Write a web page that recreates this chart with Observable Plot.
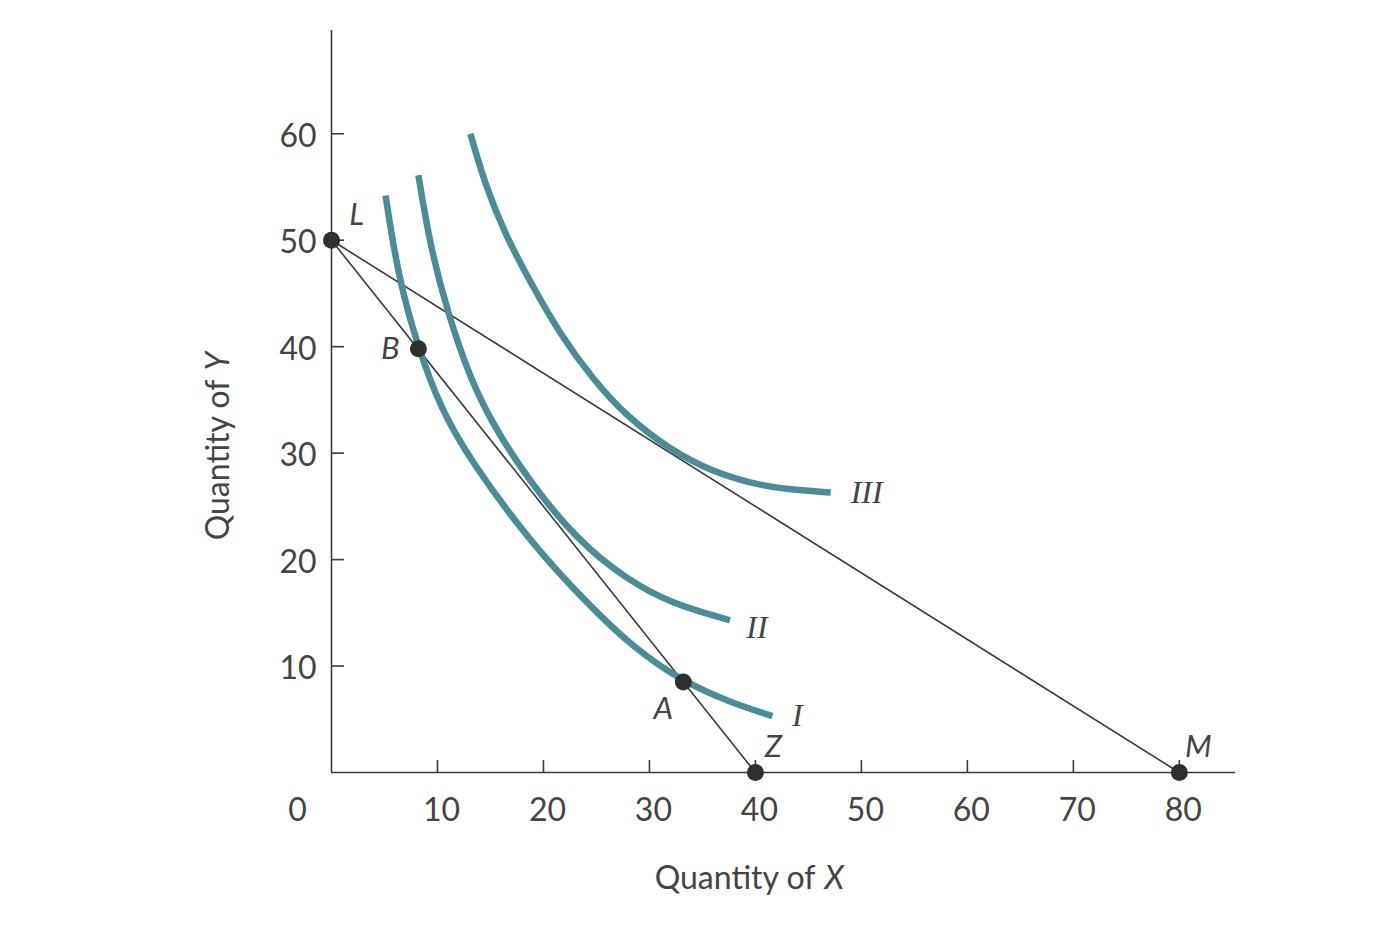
<!DOCTYPE html>
<html>
<head>
<meta charset="utf-8">
<script src="https://cdn.jsdelivr.net/npm/d3@7"></script>
<script src="https://cdn.jsdelivr.net/npm/@observablehq/plot@0.6"></script>
<style>
  html, body { margin: 0; padding: 0; background: #fff; }
  #chart svg { display: block; }
</style>
</head>
<body>
<div id="chart"></div>
<script>
// ---- data ----
const xTicks = [10, 20, 30, 40, 50, 60, 70, 80];
const yTicks = [10, 20, 30, 40, 50, 60];

// indifference curve I
const curveI = [[5.1, 54.2], [6.3, 46.5], [8.2, 39.8], [10.3, 34.2], [13.1, 29.3], [18.8, 21.6], [24.0, 16.0], [28.5, 11.7], [33.2, 8.5], [37.6, 6.6], [41.6, 5.3]];
// indifference curve II
const curveII = [[8.2, 56.1], [9.3, 49.5], [10.9, 43.4], [13.1, 36.9], [15.5, 32.2], [18.8, 27.2], [23.2, 21.8], [27.9, 18.1], [32.0, 15.9], [37.6, 14.3]];
// indifference curve III
const curveIII = [[13.1, 60.0], [14.5, 55.2], [16.4, 50.5], [18.8, 46.0], [21.6, 41.1], [24.7, 36.9], [27.9, 33.4], [32.0, 30.3], [35.8, 28.3], [40.5, 26.9], [44.3, 26.5], [47.1, 26.3]];

// budget lines
const lineLZ = [[0, 50], [40, 0]];
const lineLM = [[0, 50], [80, 0]];

// labelled points
const pointNames = ["L", "B", "A", "Z", "M"];
const pointX = [0, 8.2, 33.2, 40, 80];
const pointY = [50, 39.8, 8.5, 0, 0];

const curveNames = ["I", "II", "III"];

// ---- build ----
const teal = "#4b8c97";
const ink = "#3a3a3a";
const textInk = "#444";
const sans = "Lato, 'Open Sans', sans-serif";
const serif = "'Liberation Serif', 'DejaVu Serif', serif";

const toRows = (arr, name) => arr.map(([x, y]) => ({x, y, name}));
const curves = [...toRows(curveI, "I"), ...toRows(curveII, "II"), ...toRows(curveIII, "III")];
const budget = [...toRows(lineLZ, "LZ"), ...toRows(lineLM, "LM")];
const points = pointNames.map((n, i) => ({name: n, x: pointX[i], y: pointY[i]}));
const ends = [curveI, curveII, curveIII].map((c, i) => ({name: curveNames[i], x: c[c.length - 1][0], y: c[c.length - 1][1]}));

const pointOffsets = {L: [25, -25], B: [-28, 0], A: [-20, 27], Z: [18, -25], M: [19, -25]};
const endOffsets = {I: [25, 0], II: [27, 7], III: [36, 0]};

const pointLabels = points.map(p => Plot.text([p], {
  x: "x", y: "y", text: "name",
  dx: pointOffsets[p.name][0], dy: pointOffsets[p.name][1],
  textAnchor: "middle", lineAnchor: "middle",
  fontSize: 31, fontStyle: "italic", fill: textInk
}));
const curveLabels = ends.map(p => Plot.text([p], {
  x: "x", y: "y", text: "name",
  dx: endOffsets[p.name][0], dy: endOffsets[p.name][1],
  textAnchor: "middle", lineAnchor: "middle",
  fontSize: 32, fontStyle: "italic", fontFamily: serif, fill: textInk
}));

const chart = Plot.plot({
  width: 1388,
  height: 925,
  marginLeft: 331,
  marginRight: 153,
  marginTop: 30,
  marginBottom: 153,
  style: {background: "#fff", fontFamily: sans},
  x: {domain: [0, 85.3], axis: null},
  y: {domain: [0, 69.7], axis: null},
  marks: [
    // axes
    Plot.ruleY([0], {stroke: ink, strokeWidth: 1.6}),
    Plot.ruleX([0], {stroke: ink, strokeWidth: 1.6}),
    Plot.ruleX(xTicks, {x: d => d, y1: 0, y2: 0, insetTop: -12, stroke: ink, strokeWidth: 1.6}),
    Plot.ruleY(yTicks, {y: d => d, x1: 0, x2: 0, insetRight: -13, stroke: ink, strokeWidth: 1.6}),
    Plot.text(xTicks, {x: d => d, y: 0, dx: 4, dy: 38, text: d => String(d), textAnchor: "middle", lineAnchor: "middle", fontSize: 32, fill: textInk}),
    Plot.text(["0"], {x: 0, y: 0, dx: -34, dy: 38, text: d => d, textAnchor: "middle", lineAnchor: "middle", fontSize: 32, fill: textInk}),
    Plot.text(yTicks, {x: 0, y: d => d, dx: -15, dy: 3, text: d => String(d), textAnchor: "end", lineAnchor: "middle", fontSize: 32, fill: textInk}),
    // axis titles
    Plot.text(["Quantity of"], {frameAnchor: "bottom-left", dx: 484, dy: 106, text: d => d, textAnchor: "end", lineAnchor: "middle", fontSize: 32, fill: textInk}),
    Plot.text(["X"], {frameAnchor: "bottom-left", dx: 493, dy: 106, text: d => d, textAnchor: "start", lineAnchor: "middle", fontSize: 32, fontStyle: "italic", fill: textInk}),
    Plot.text(["Quantity of"], {frameAnchor: "left", dx: -113, dy: -22, rotate: -90, text: d => d, textAnchor: "end", lineAnchor: "middle", fontSize: 32, fill: textInk}),
    Plot.text(["Y"], {frameAnchor: "left", dx: -113, dy: -31, rotate: -90, text: d => d, textAnchor: "start", lineAnchor: "middle", fontSize: 32, fontStyle: "italic", fill: textInk}),
    // budget lines
    Plot.line(budget, {x: "x", y: "y", z: "name", stroke: "#3c3c3c", strokeWidth: 1.6}),
    // indifference curves
    Plot.line(curves, {x: "x", y: "y", z: "name", curve: "basis", stroke: teal, strokeWidth: 6.5, strokeLinecap: "butt"}),
    // points
    Plot.dot(points, {x: "x", y: "y", r: 8.5, fill: "#2f2f2f"}),
    ...pointLabels,
    ...curveLabels
  ]
});
document.getElementById("chart").appendChild(chart);
</script>
</body>
</html>
